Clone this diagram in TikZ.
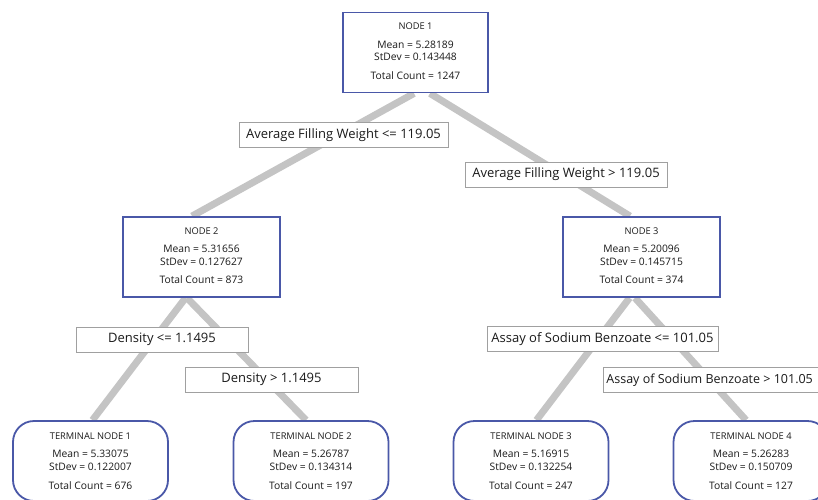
\documentclass[tikz,border=0pt]{standalone}
\usepackage{fontspec}
\setmainfont{Open Sans}
\usetikzlibrary{backgrounds}
\definecolor{boxblue}{HTML}{4A58A8}
\definecolor{edgegray}{HTML}{C4C4C4}
\definecolor{lblgray}{HTML}{A0A0A0}
\definecolor{txt}{HTML}{1A1A1A}
\tikzset{
  sqbox/.style={draw=boxblue, line width=1.8pt, fill=white, minimum width=157pt, minimum height=80pt, inner sep=0pt},
  rdbox/.style={sqbox, minimum width=155pt, rounded corners=21pt},
  ttl/.style={font=\fontsize{9.3}{11}\selectfont, text=txt, inner sep=0pt},
  val/.style={font=\fontsize{10.3}{12}\selectfont, text=txt, inner sep=0pt},
  lbl/.style={draw=lblgray, line width=0.9pt, fill=white, text=txt, font=\fontsize{13}{15}\selectfont, minimum height=25pt, inner sep=0pt},
  edge/.style={draw=edgegray, line width=7pt}
}
\newcommand\statbox[8]{%
  \node[#2] (#1) at (#3,#4) {};
  \node[ttl] (#1-t) at ([yshift=-\ot]#1.north) {#5};
  \node[val] (#1-m) at ([yshift=-\om]#1.north) {Mean = #6};
  \node[val] (#1-s) at ([yshift=-\os]#1.north) {StDev = #7};
  \node[val] (#1-c) at ([yshift=-\oc]#1.north) {Total Count = #8};
}
\def\ot{15pt}\def\om{33pt}\def\os{45.5pt}\def\oc{64pt}
\begin{document}
\begin{tikzpicture}[x=1pt,y=-1pt]
\clip (0,0) rectangle (818,499);
\statbox{n1}{sqbox, minimum width=145pt}{415.5}{52.5}{NODE 1}{5.28189}{0.143448}{1247}
\statbox{n2}{sqbox}{201.5}{257}{NODE 2}{5.31656}{0.127627}{873}
\statbox{n3}{sqbox}{641.5}{257}{NODE 3}{5.20096}{0.145715}{374}
\def\ot{16pt}\def\om{34pt}\def\os{47pt}\def\oc{66pt}
\statbox{t1}{rdbox}{90.5}{461}{TERMINAL NODE 1}{5.33075}{0.122007}{676}
\statbox{t2}{rdbox}{311}{461}{TERMINAL NODE 2}{5.26787}{0.134314}{197}
\statbox{t3}{rdbox}{531}{461}{TERMINAL NODE 3}{5.16915}{0.132254}{247}
\statbox{t4}{rdbox}{751}{461}{TERMINAL NODE 4}{5.26283}{0.150709}{127}
\begin{scope}[on background layer]
  \fill[white] (0,0) rectangle (818,499);
  \draw[edge] ([xshift=-1.5pt]n1.south) -- ([xshift=-9.5pt]n2.north);
  \draw[edge] ([xshift=14.5pt]n1.south) -- ([xshift=-11.5pt]n3.north);
  \draw[edge] ([xshift=-16pt]n2.south) -- ([xshift=2pt]t1.north);
  \draw[edge] ([xshift=-14.5pt]n2.south) -- ([xshift=-5pt]t2.north);
  \draw[edge] ([xshift=-12pt]n3.south) -- ([xshift=5.5pt]t3.north);
  \draw[edge] ([xshift=-6.5pt]n3.south) -- ([xshift=-5pt]t4.north);
\end{scope}
\node[lbl, minimum width=209pt] (l1) at (343.5,135) {Average Filling Weight <= 119.05};
\node[lbl, minimum width=202pt] (l2) at (566,174.5) {Average Filling Weight > 119.05};
\node[lbl, minimum width=172pt] (l3) at (162,339.5) {Density <= 1.1495};
\node[lbl, minimum width=173pt] (l4) at (271.5,379.5) {Density > 1.1495};
\node[lbl, minimum width=231pt] (l5) at (602.5,339) {Assay of Sodium Benzoate <= 101.05};
\node[lbl, anchor=west, font=\fontsize{12.5}{15}\selectfont] (l6) at (603,380) {\makebox[224pt][l]{\hspace*{3pt}Assay of Sodium Benzoate > 101.05}};
\end{tikzpicture}
\end{document}
